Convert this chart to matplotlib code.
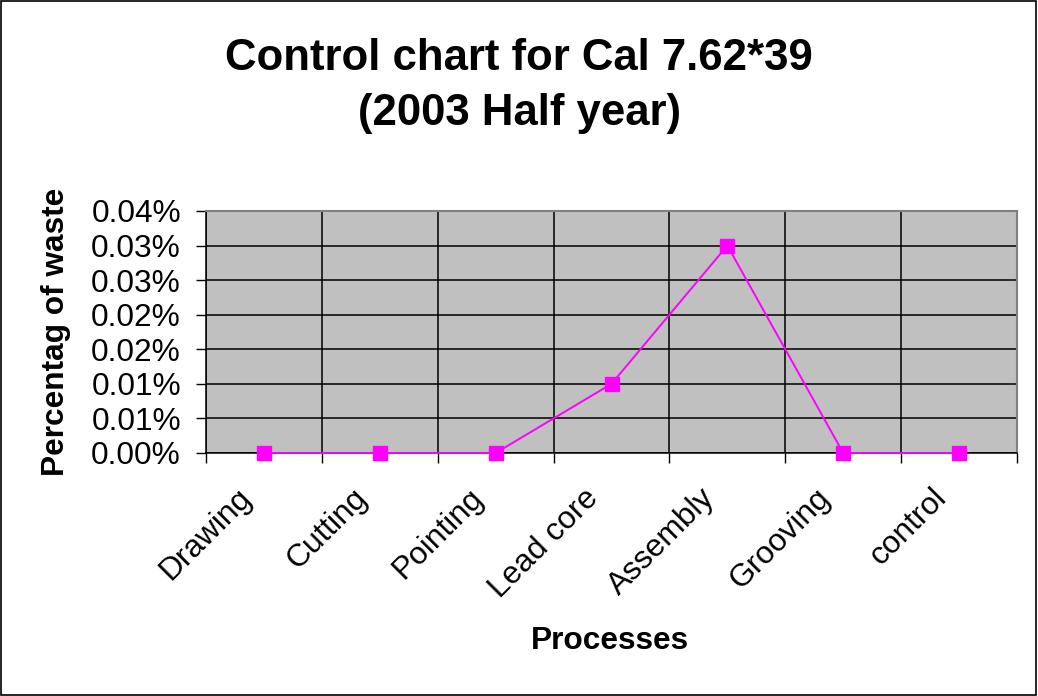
import matplotlib
matplotlib.use("Agg")
import matplotlib.pyplot as plt
from matplotlib.ticker import FixedLocator, FixedFormatter
from matplotlib.patches import Rectangle
from matplotlib.transforms import ScaledTranslation

plt.rcParams['font.family'] = ['Liberation Sans', 'DejaVu Sans']

# Data
processes = ["Drawing", "Cutting", "Pointing", "Lead core", "Assembly", "Grooving", "control"]
waste_fraction = [0.0, 0.0, 0.0, 0.0001, 0.0003, 0.0, 0.0]
y_ticks = [0.0, 0.00005, 0.0001, 0.00015, 0.0002, 0.00025, 0.0003, 0.00035]
y_tick_labels = ["0.00%", "0.01%", "0.01%", "0.02%", "0.02%", "0.03%", "0.03%", "0.04%"]

title = "Control chart for Cal 7.62*39\n(2003 Half year)"
x_label = "Processes"
y_label = "Percentag of waste"

fig = plt.figure(figsize=(10.38, 6.96), dpi=100)
fig.patch.set_facecolor("white")
fig.patches.append(Rectangle((0.001, 0.001), 0.997, 0.997, transform=fig.transFigure,
                             fill=False, edgecolor="black", linewidth=1.2, zorder=10))

ax = fig.add_axes([206/1038, 1 - 453/696, (1017-206)/1038, (453-211)/696])
ax.set_facecolor("#C0C0C0")

x = list(range(len(processes)))
ax.plot(x, waste_fraction, color="#FF00FF", linewidth=1.4, marker="s",
        markersize=10, markerfacecolor="#FF00FF", markeredgecolor="#FF00FF",
        zorder=5, clip_on=False)

ax.set_xlim(-0.5, len(processes) - 0.5)
ax.set_ylim(y_ticks[0], y_ticks[-1])

# y axis
ax.yaxis.set_major_locator(FixedLocator(y_ticks))
ax.yaxis.set_major_formatter(FixedFormatter(y_tick_labels))
ax.tick_params(axis="y", which="major", direction="out", length=7, width=1,
               labelsize=22.8, pad=11, colors="black")

# x axis: labels at centers, tick marks/grid at boundaries
ax.set_xticks(x)
ax.set_xticklabels(processes, rotation=45, ha="right", rotation_mode="anchor")
ax.tick_params(axis="x", which="major", length=0, labelsize=22.8, pad=28)
shift = ScaledTranslation(-28/100, 9/100, fig.dpi_scale_trans)
for lbl in ax.get_xticklabels():
    lbl.set_transform(lbl.get_transform() + shift)
boundaries = [i - 0.5 for i in range(len(processes) + 1)]
ax.xaxis.set_minor_locator(FixedLocator(boundaries))
ax.tick_params(axis="x", which="minor", direction="out", length=7, width=1, color="black")

ax.grid(True, axis="y", which="major", color="black", linewidth=1.1, zorder=1)
ax.grid(True, axis="x", which="minor", color="black", linewidth=1.1, zorder=1)
ax.set_axisbelow(True)

for side in ["top", "right"]:
    ax.spines[side].set_color("#808080")
    ax.spines[side].set_linewidth(1.5)
for side in ["left", "bottom"]:
    ax.spines[side].set_color("black")
    ax.spines[side].set_linewidth(1.1)

fig.text(0.5, 1 - 86/696, title, ha="center", va="center", fontsize=31.5,
         fontweight="bold", linespacing=1.45)
fig.text(56/1038, 1 - 332/696, y_label, ha="center", va="center", rotation=90,
         fontsize=22.8, fontweight="bold")
fig.text(610/1038, 1 - 641/696, x_label, ha="center", va="center",
         fontsize=22.8, fontweight="bold")

fig.savefig("out.png", dpi=100)
